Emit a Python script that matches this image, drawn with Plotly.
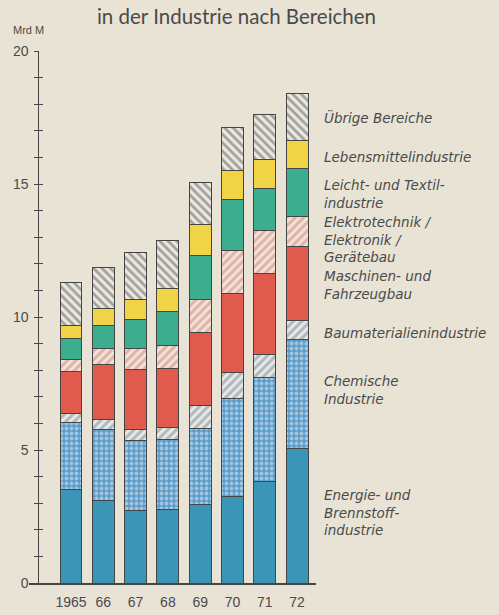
import plotly.graph_objects as go

years = ["1965", "66", "67", "68", "69", "70", "71", "72"]

energie   = [3.52, 3.12, 2.74, 2.77, 2.95, 3.27, 3.80, 5.06]
chemie    = [2.52, 2.66, 2.60, 2.64, 2.86, 3.65, 3.92, 4.09]
baumat    = [0.35, 0.38, 0.42, 0.44, 0.85, 1.00, 0.86, 0.70]
maschinen = [1.56, 2.04, 2.26, 2.23, 2.75, 2.96, 3.05, 2.79]
elektro   = [0.45, 0.60, 0.78, 0.83, 1.25, 1.63, 1.64, 1.13]
leicht    = [0.81, 0.88, 1.11, 1.28, 1.64, 1.92, 1.57, 1.80]
lebens    = [0.47, 0.63, 0.75, 0.90, 1.16, 1.06, 1.07, 1.07]
uebrige   = [1.61, 1.55, 1.77, 1.80, 1.61, 1.62, 1.72, 1.75]

labels = [
    "Energie- und<br>Brennstoff-<br>industrie",
    "Chemische<br>Industrie",
    "Baumaterialienindustrie",
    "Maschinen- und<br>Fahrzeugbau",
    "Elektrotechnik /<br>Elektronik /<br>Gerätebau",
    "Leicht- und Textil-<br>industrie",
    "Lebensmittelindustrie",
    "Übrige Bereiche",
]
label_y = [2.65, 7.27, 9.41, 11.21, 12.9, 14.64, 16.0, 17.5]

yticks = list(range(0, 21))
yticktext = [str(v) if v % 5 == 0 else "" for v in yticks]

BG = "#e8e3d5"
TXT = "#4a4a4a"
OUT = "#454545"

series = [energie, chemie, baumat, maschinen, elektro, leicht, lebens, uebrige]
styles = [
    dict(color="#3a95b6"),
    dict(color="#5a9ccb", pattern=dict(shape=".", fgcolor="#eef0f0", bgcolor="#5a9ccb", size=5, solidity=0.45)),
    dict(color=BG, pattern=dict(shape="/", fgcolor="#6b8aa6", bgcolor="#ebe8df", size=6, solidity=0.5)),
    dict(color="#e05a4e"),
    dict(color=BG, pattern=dict(shape="/", fgcolor="#e2786d", bgcolor="#ebe6dc", size=6, solidity=0.5)),
    dict(color="#3cae8e"),
    dict(color="#f1d348"),
    dict(color=BG, pattern=dict(shape="\\", fgcolor="#575757", bgcolor="#ebe8df", size=6, solidity=0.45)),
]

xpos = list(range(len(years)))

fig = go.Figure()
for vals, st, lab in zip(series, styles, labels):
    marker = dict(st)
    marker["line"] = dict(color=OUT, width=1)
    fig.add_trace(go.Bar(x=xpos, y=vals, marker=marker, width=0.68,
                         name=lab.replace("<br>", " "), showlegend=False))

for lab, ly in zip(labels, label_y):
    fig.add_annotation(text=lab, xref="paper", x=1.021, xanchor="left",
                       yref="y", y=ly, yanchor="middle", showarrow=False, align="left",
                       font=dict(family="DejaVu Sans", size=13.5, color=TXT, style="italic"))

fig.add_annotation(text="Mrd M", xref="paper", x=-0.062, xanchor="left",
                   yref="paper", y=1.04, yanchor="middle", showarrow=False,
                   font=dict(family="Liberation Sans Narrow, Liberation Sans", size=11, color=TXT))

fig.update_layout(
    width=499, height=615,
    paper_bgcolor=BG, plot_bgcolor=BG,
    margin=dict(l=29, r=183, t=51, b=32, autoexpand=False),
    barmode="stack",
    title=dict(text="in der Industrie nach Bereichen", x=0.474, xanchor="center",
               y=0.972, yanchor="middle",
               font=dict(family="Lato", size=20.5, color=TXT)),
    xaxis=dict(range=[-1.30, 7.585], tickvals=xpos, ticktext=years,
               showline=True, linecolor=OUT, linewidth=1.5, ticks="",
               showgrid=False, zeroline=False, automargin=False,
               ticklabelstandoff=5,
               tickfont=dict(family="Liberation Sans", size=14, color=TXT)),
    yaxis=dict(range=[0, 20], tickvals=yticks, ticktext=yticktext,
               anchor="free", position=0.033, side="left",
               showline=True, linecolor=OUT, linewidth=1, ticks="outside",
               ticklen=4, tickcolor=OUT, showgrid=False, zeroline=False,
               automargin=False, ticklabelstandoff=3,
               tickfont=dict(family="Liberation Sans", size=14, color=TXT)),
    yaxis2=dict(range=[0, 20], tickvals=yticks, overlaying="y",
                anchor="free", position=0.033, side="left",
                showline=False, ticks="inside", ticklen=4, tickcolor=OUT,
                automargin=False,
                showticklabels=False, showgrid=False, zeroline=False),
)
fig.add_trace(go.Scatter(x=[None], y=[None], yaxis="y2", showlegend=False, hoverinfo="skip"))

fig.write_html("out.html", config={"displayModeBar": False},
               post_script="document.body.style.margin='0';document.body.style.background='%s';" % BG)
